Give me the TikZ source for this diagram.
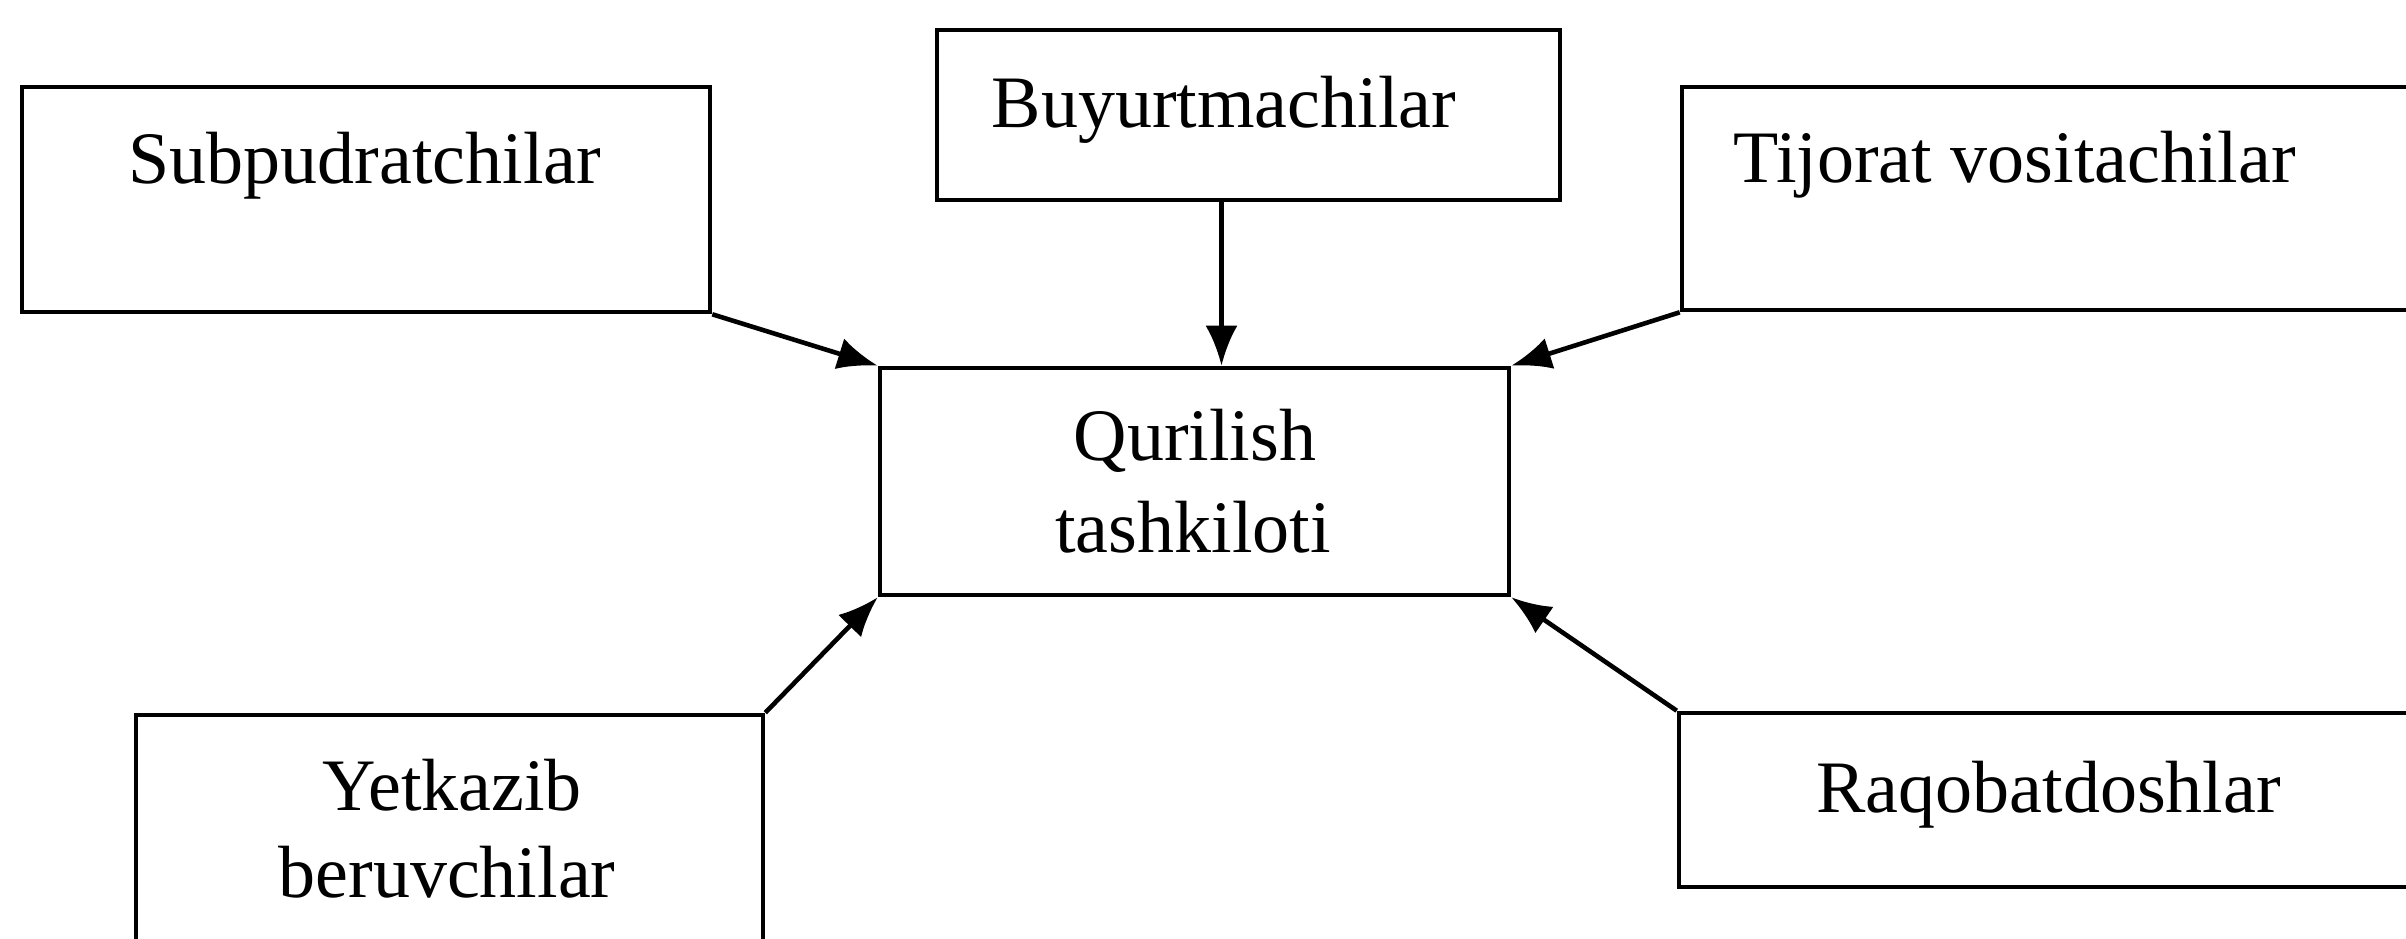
\documentclass[tikz,border=0pt]{standalone}
\usepackage{fontspec}
\setmainfont{Liberation Serif}
\usetikzlibrary{arrows.meta,calc}
\begin{document}
\begin{tikzpicture}[x=0.5pt,y=-0.5pt,
  box/.style={draw=black,line width=2.3pt,inner sep=0pt,rectangle},
  txt/.style={inner sep=0pt,font=\fontsize{37}{44}\selectfont},
  arr/.style={draw=black,line width=2.3pt,-{Latex[length=20pt,width=16pt]}}]
\useasboundingbox (0,0) rectangle (2406,938);
\clip (0,0) rectangle (2406,938);
\fill[white] (0,0) rectangle (2406,938);
% boxes
\node[box,minimum width=344pt,minimum height=112.5pt] (S) at (366,199.5) {};
\node[box,minimum width=311.5pt,minimum height=85pt] (B) at (1248.5,115) {};
\node[box,minimum width=389pt,minimum height=111.5pt] (T) at (2071,198.5) {};
\node[box,minimum width=314.5pt,minimum height=113.5pt] (Q) at (1194.5,481.5) {};
\node[box,minimum width=313.5pt,minimum height=137.5pt] (Y) at (449.5,852.5) {};
\node[box,minimum width=390.5pt,minimum height=87pt] (R) at (2069.5,800) {};
% texts
\node[txt,anchor=base] (St) at (365,183) {Subpudratchilar};
\node[txt,anchor=base] (Bt) at (1224,127) {Buyurtmachilar};
\node[txt,anchor=base west] (Tt) at (1733,182) {Tijorat vositachilar};
\node[txt,anchor=base] (Qt1) at (1195,460) {Qurilish};
\node[txt,anchor=base] (Qt2) at (1193,552) {tashkiloti};
\node[txt,anchor=base] (Yt1) at (452,810) {Yetkazib};
\node[txt,anchor=base] (Yt2) at (447,897) {beruvchilar};
\node[txt,anchor=base west] (Rt) at (1816,812) {Raqobatdoshlar};
% connectors
\coordinate (bm) at ($(B.south)!0.5!(B.south -| Q.north)$);
\draw[arr] (bm) -- (bm |- Q.north);
\draw[arr] (S.south east) -- (Q.north west);
\draw[arr] (T.south west) -- (Q.north east);
\draw[arr] (Y.north east) -- (Q.south west);
\draw[arr] (R.north west) -- (Q.south east);
\end{tikzpicture}
\end{document}
